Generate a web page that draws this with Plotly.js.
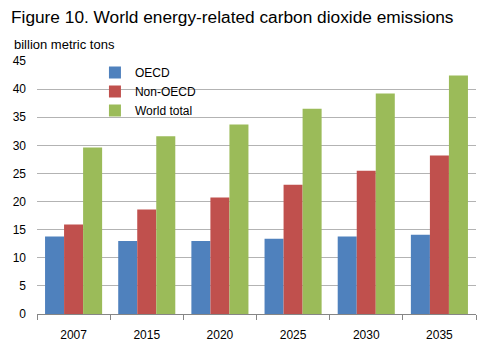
<!DOCTYPE html>
<html>
<head>
<meta charset="utf-8">
<script src="https://cdn.plot.ly/plotly-3.0.1.min.js"></script>
<style>html,body{margin:0;padding:0;background:#fff;}#chart{width:482px;height:352px;}</style>
</head>
<body>
<div id="chart"></div>
<script>
const years = ["2007", "2015", "2020", "2025", "2030", "2035"];
const oecd = [13.8, 13.0, 13.0, 13.4, 13.8, 14.1];
const nonOecd = [15.9, 18.6, 20.7, 23.0, 25.5, 28.2];
const worldTotal = [29.6, 31.6, 33.7, 36.5, 39.2, 42.4];
const seriesNames = ["OECD", "Non-OECD", "World total"];
const colors = ["#4F81BD", "#C0504D", "#9BBB59"];

const font = "Arial, 'Liberation Sans', sans-serif";
const data = [oecd, nonOecd, worldTotal].map((vals, i) => ({
  type: "bar",
  x: years,
  y: vals,
  name: seriesNames[i],
  marker: {color: colors[i], line: {width: 0}},
  hoverinfo: "x+y+name"
}));

const layout = {
  width: 482, height: 352,
  margin: {l: 37, r: 6, t: 61, b: 38, pad: 0},
  paper_bgcolor: "#fff", plot_bgcolor: "#fff",
  font: {family: font, size: 12, color: "#000"},
  barmode: "group",
  bargap: 0.22,
  bargroupgap: 0,
  title: {
    text: "Figure 10. World energy-related carbon dioxide emissions",
    font: {family: font, size: 17.3, color: "#000"},
    x: 11 / 482, xref: "container", xanchor: "left",
    y: 1 - 17 / 352, yref: "container", yanchor: "middle",
    pad: {l: 0, t: 0, r: 0, b: 0}
  },
  xaxis: {
    type: "category",
    showgrid: false,
    showline: true, linecolor: "#868686", linewidth: 1,
    ticks: "outside", tickson: "boundaries", ticklen: 5, tickcolor: "#868686",
    tickfont: {family: font, size: 12, color: "#000"},
    ticklabelstandoff: 10,
    fixedrange: true
  },
  yaxis: {
    range: [0, 45], dtick: 5, tick0: 0,
    showgrid: true, gridcolor: "#B3B3B3", gridwidth: 1,
    zeroline: false, showline: false, ticks: "",
    tickfont: {family: font, size: 12, color: "#000"},
    ticklabelstandoff: 10,
    fixedrange: true
  },
  legend: {
    x: 0.132, y: 1 + 3 / 253, xanchor: "left", yanchor: "top",
    bgcolor: "rgba(0,0,0,0)", borderwidth: 0,
    font: {family: font, size: 12, color: "#000"},
    itemwidth: 30, tracegroupgap: 0
  },
  shapes: [{
    type: "rect", layer: "between",
    xref: "paper", yref: "paper",
    x0: 78 / 439, x1: 163 / 439, y0: 197 / 253, y1: 1.001,
    fillcolor: "#fff", line: {width: 0}
  }],
  annotations: [{
    text: "billion metric tons",
    xref: "paper", yref: "paper", x: 0, y: 1, xanchor: "left", yanchor: "middle",
    xshift: -25, yshift: 17, showarrow: false,
    font: {family: font, size: 13, color: "#000"}
  }]
};

Plotly.newPlot("chart", data, layout, {displayModeBar: false, staticPlot: true});
</script>
</body>
</html>
